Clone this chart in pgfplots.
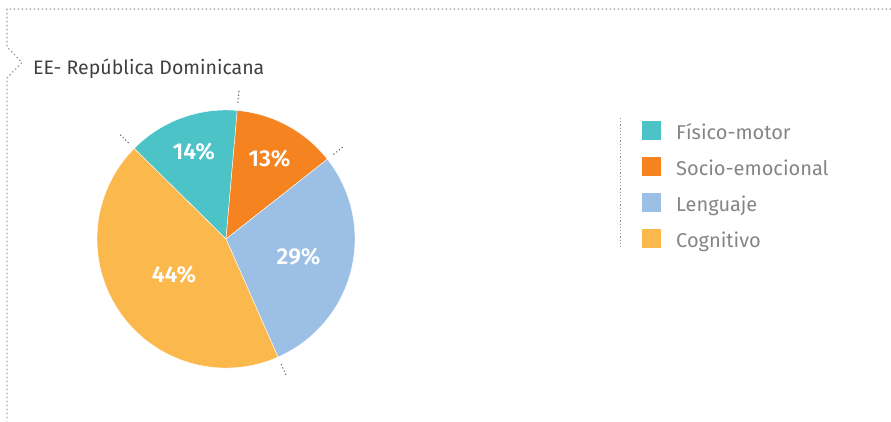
\documentclass[border=0pt]{standalone}
\usepackage{pgfplots}
\pgfplotsset{compat=1.18}
\usepackage{pgfplotstable}
\usepackage{fontspec}
\setmainfont{Fira Sans}
\newfontfamily\semibold{Fira Sans SemiBold}
\definecolor{cteal}{HTML}{4BC3C7}
\definecolor{corange}{HTML}{F58420}
\definecolor{cblue}{HTML}{9BBFE5}
\definecolor{cyellow}{HTML}{FBB84D}
\definecolor{framegray}{HTML}{9A9A9A}
\definecolor{titlegray}{HTML}{404040}
\definecolor{leggray}{HTML}{858585}
\newcommand\pielab{\fontsize{23}{23}\selectfont\semibold}

% slices in legend order, drawn clockwise starting at 135.4 degrees
\pgfplotstableread[col sep=comma]{
label,value,color,labr
Físico-motor,14,cteal,0.72
Socio-emocional,13,corange,0.71
Lenguaje,29,cblue,0.58
Cognitivo,44,cyellow,0.49
}\piedata

\begin{document}
\begin{tikzpicture}[x=1pt,y=1pt]
\path[use as bounding box] (0,0) rectangle (891,421);
% frame
\tikzset{framedots/.style={draw=framegray, line width=1.3pt, dash pattern=on 1.3pt off 2.7pt}}
\draw[framedots] (891,412) -- (7,412) -- (7,374) -- (22,358.5) -- (7,343) -- (7,0);
% title
\node[anchor=base west, inner sep=0, text=titlegray, font=\fontsize{19.5}{20}\selectfont] at (33,346) {EE- República Dominicana};

\begin{axis}[
  hide axis, scale only axis, clip=false,
  width=258pt, height=258pt,
  xmin=-1, xmax=1, ymin=-1, ymax=1,
  at={(97pt,53pt)}, anchor=south west,
]
\xdef\piesa{135.4}
\pgfplotsinvokeforeach{0,1,2,3}{
  \pgfplotstablegetelem{#1}{value}\of\piedata \xdef\pieval{\pgfplotsretval}
  \pgfplotstablegetelem{#1}{color}\of\piedata \xdef\piecol{\pgfplotsretval}
  \pgfplotstablegetelem{#1}{labr}\of\piedata \xdef\pielr{\pgfplotsretval}
  \pgfmathsetmacro\pieea{\piesa-3.6*\pieval}
  \pgfmathsetmacro\piema{(\piesa+\pieea)/2}
  \pgfmathsetmacro\piesx{cos(\piesa)}
  \pgfmathsetmacro\piesy{sin(\piesa)}
  \pgfmathsetmacro\pielx{\pielr*cos(\piema)}
  \pgfmathsetmacro\piely{\pielr*sin(\piema)}
  \pgfmathsetmacro\pieax{1.065*cos(\piesa)}
  \pgfmathsetmacro\pieay{1.065*sin(\piesa)}
  \pgfmathsetmacro\piebx{1.15*cos(\piesa)}
  \pgfmathsetmacro\pieby{1.15*sin(\piesa)}
  \edef\pietmp{%
    \noexpand\fill[fill=\piecol, draw=white, line width=0.4pt] (axis cs:0,0) -- (axis cs:\piesx,\piesy) arc[start angle=\piesa, end angle=\pieea, radius=129pt] -- cycle;
    \noexpand\node[font=\noexpand\pielab, text=white] at (axis cs:\pielx,\piely) {\pieval\noexpand\%};
    \noexpand\draw[draw=gray!80!black, line width=1.6pt, line cap=round, dash pattern=on 0pt off 3.5pt] (axis cs:\pieax,\pieay) -- (axis cs:\piebx,\pieby);
  }
  \pietmp
  \xdef\piesa{\pieea}
}
\end{axis}

% legend
\draw[framedots, line width=1.2pt, dash pattern=on 1.2pt off 2pt] (620.7,303) -- (620.7,174);
\pgfplotsinvokeforeach{0,1,2,3}{
  \pgfplotstablegetelem{#1}{label}\of\piedata \edef\leglab{\pgfplotsretval}
  \pgfplotstablegetelem{#1}{color}\of\piedata \edef\legcol{\pgfplotsretval}
  \pgfmathsetmacro\legy{290.5-35.9*#1}
  \fill[\legcol] (642,\legy-9.5) rectangle (661,\legy+9.5);
  \node[anchor=base west, inner sep=0, text=leggray, font=\fontsize{20}{20}\selectfont] at (676,\legy-9) {\leglab};
}
\end{tikzpicture}
\end{document}
